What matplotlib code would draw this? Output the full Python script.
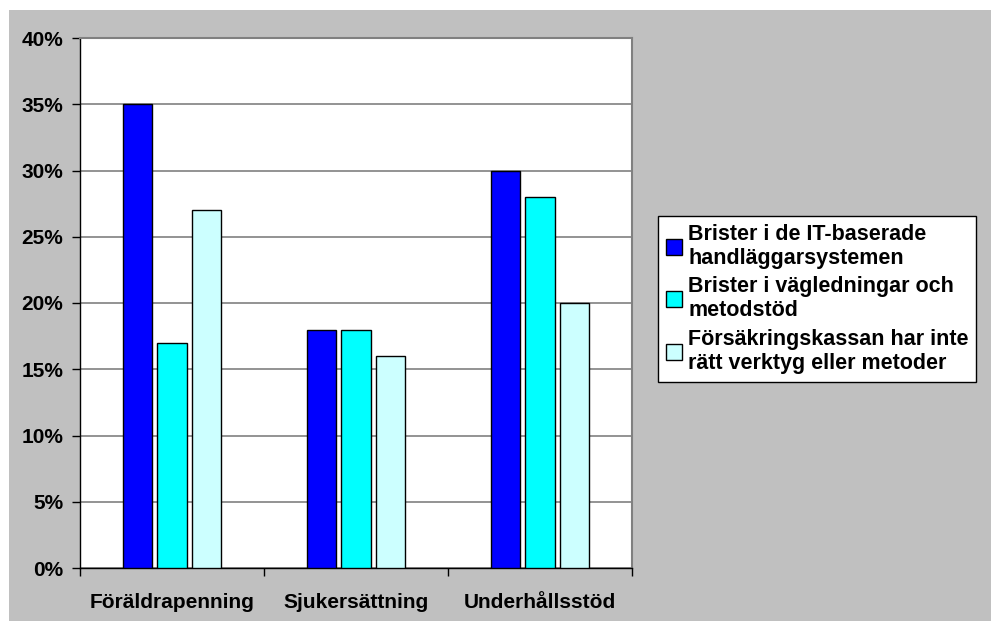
import matplotlib
matplotlib.use("Agg")
import matplotlib.pyplot as plt
import numpy as np
from matplotlib.patches import Rectangle, Patch

plt.rcParams['font.family'] = ['Liberation Sans', 'DejaVu Sans']
plt.rcParams['font.weight'] = 'bold'

categories = ["Föräldrapenning", "Sjukersättning", "Underhållsstöd"]
series_names = [
    "Brister i de IT-baserade\nhandläggarsystemen",
    "Brister i vägledningar och\nmetodstöd",
    "Försäkringskassan har inte\nrätt verktyg eller metoder",
]
it_system = [35, 18, 30]
vagledning = [17, 18, 28]
verktyg = [27, 16, 20]
series = [it_system, vagledning, verktyg]
colors = ["#0000FF", "#00FFFF", "#CCFFFF"]
yticks = [0, 5, 10, 15, 20, 25, 30, 35, 40]

W, H = 991, 621
fig = plt.figure(figsize=(W / 100, H / 100), dpi=100)
fig.patch.set_facecolor("white")

# grey chart area
fig.patches.append(Rectangle((9 / W, 0), 1 - 9 / W, 1 - 10 / H,
                             transform=fig.transFigure, facecolor="#C0C0C0",
                             edgecolor="none", zorder=-5))

left, right, top, bottom = 80, 632, 38, 568
ax = fig.add_axes([left / W, 1 - bottom / H, (right - left) / W, (bottom - top) / H])
ax.set_facecolor("white")

x = np.arange(len(categories))
bw = 0.158
step = 0.185
for i, (vals, c) in enumerate(zip(series, colors)):
    ax.bar(x + (i - 1) * step, vals, width=bw, color=c, edgecolor="black",
           linewidth=1.0, zorder=3, label=series_names[i])

ax.set_xlim(-0.5, len(categories) - 0.5)
ax.set_ylim(0, 40)
ax.set_yticks(yticks)
ax.set_yticklabels([f"{v}%" for v in yticks], fontsize=15, fontweight="bold")
ax.yaxis.grid(True, color="#808080", linewidth=1.2, zorder=1)
ax.set_axisbelow(True)

ax.set_xticks(np.arange(-0.5, len(categories), 1.0))
ax.set_xticklabels([])
ax.set_xticks(x, minor=True)
ax.set_xticklabels(categories, minor=True, fontsize=15, fontweight="bold")
ax.tick_params(axis="x", which="minor", length=0, pad=18)
ax.tick_params(axis="x", which="major", length=6, width=1, color="black", direction="out")
ax.tick_params(axis="y", length=6, width=1, color="black", direction="out", pad=6)

for side in ["left", "bottom"]:
    ax.spines[side].set_color("black")
    ax.spines[side].set_linewidth(1.0)
for side in ["top", "right"]:
    ax.spines[side].set_color("#808080")
    ax.spines[side].set_linewidth(1.5)

handles = [Patch(facecolor=c, edgecolor="black", linewidth=1.0) for c in colors]
leg = fig.legend(handles, series_names, loc="upper left",
                 bbox_to_anchor=(658 / W, 1 - 216 / H),
                 prop={"family": ["Liberation Sans", "DejaVu Sans"], "weight": "bold", "size": 15.5},
                 frameon=True, fancybox=False, edgecolor="black", framealpha=1,
                 handlelength=0.75, handleheight=0.75, handletextpad=0.3,
                 labelspacing=0.35, borderpad=0.35, borderaxespad=0)
leg.get_frame().set_linewidth(1.0)
leg.get_frame().set_facecolor("white")

fig.savefig("out.png", dpi=100)
